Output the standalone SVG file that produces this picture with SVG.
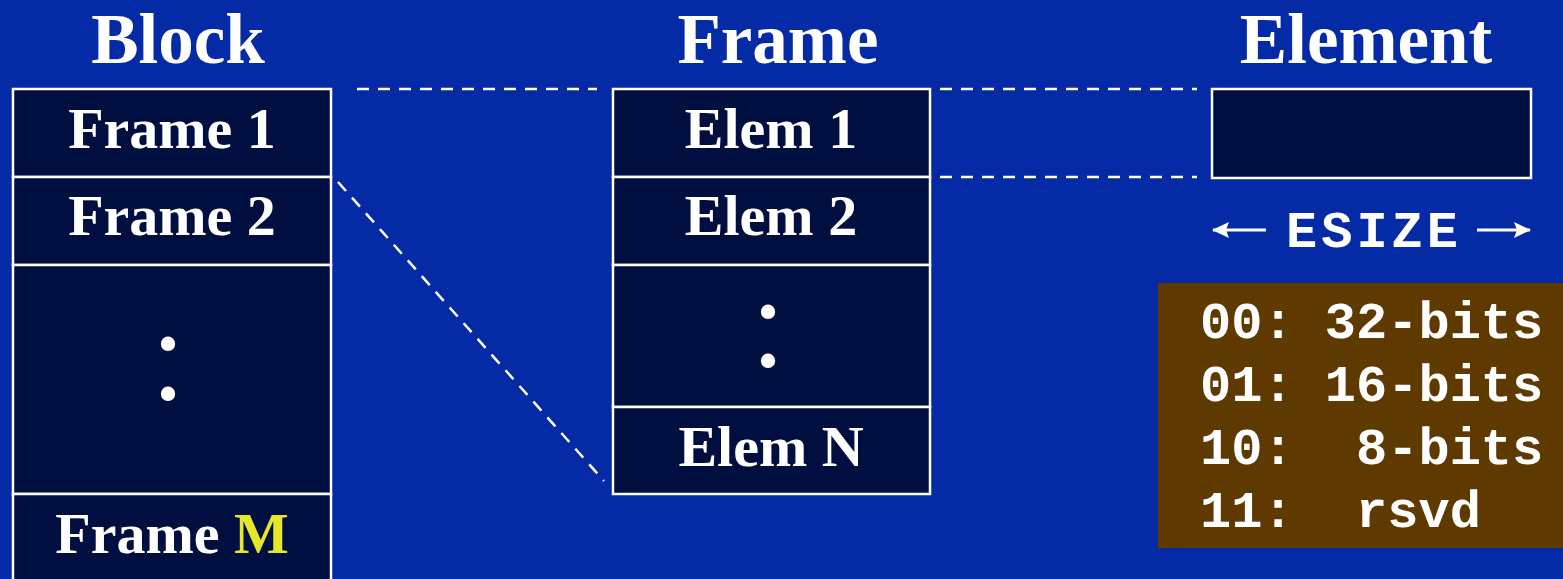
<svg xmlns="http://www.w3.org/2000/svg" width="1563" height="579" viewBox="0 0 1563 579">
<style>
.cell{fill:#000F40;stroke:#FFFFFF;stroke-width:2.5}
.t{font-family:"Liberation Serif",serif;font-weight:bold;fill:#FFFFFF;text-anchor:middle}
.title{font-size:71px}
.lbl{font-size:58px}
.dots{font-size:88px}
.mono{font-family:"Liberation Mono",monospace;font-weight:bold;fill:#FFFFFF;font-size:52px}
.dash{stroke:#FFFFFF;stroke-width:2.5;stroke-dasharray:12 9;fill:none}
.arr{stroke:#FFFFFF;stroke-width:3;fill:none}
</style>
<defs>
<marker id="ah" viewBox="0 0 17 16" refX="16" refY="8" markerWidth="17" markerHeight="16" markerUnits="userSpaceOnUse" orient="auto">
<path d="M0,0 L17,8 L0,16 L3,8 z" fill="#FFFFFF"/>
</marker>
</defs>
<rect x="0" y="0" width="1563" height="579" fill="#042AA5"/>

<g id="titles">
<text class="t title" x="178" y="63">Block</text>
<text class="t title" x="778" y="63">Frame</text>
<text class="t title" x="1366" y="63">Element</text>
</g>

<g id="block">
<rect class="cell" x="13" y="89" width="318" height="88"/>
<rect class="cell" x="13" y="177" width="318" height="88"/>
<rect class="cell" x="13" y="265" width="318" height="229"/>
<rect class="cell" x="13" y="494" width="318" height="100"/>
<text class="t lbl" x="172" y="148">Frame 1</text>
<text class="t lbl" x="172" y="235">Frame 2</text>
<text class="t dots"><tspan x="168" y="350">.</tspan><tspan x="168" y="400">.</tspan></text>
<text class="t lbl" x="172" y="553">Frame <tspan fill="#E6E62A">M</tspan></text>
</g>

<g id="frame">
<rect class="cell" x="613" y="89" width="317" height="88"/>
<rect class="cell" x="613" y="177" width="317" height="88"/>
<rect class="cell" x="613" y="265" width="317" height="142"/>
<rect class="cell" x="613" y="407" width="317" height="87"/>
<text class="t lbl" x="771" y="148">Elem 1</text>
<text class="t lbl" x="771" y="235">Elem 2</text>
<text class="t dots"><tspan x="768" y="318">.</tspan><tspan x="768" y="367">.</tspan></text>
<text class="t lbl" x="771" y="466">Elem N</text>
</g>

<g id="element">
<rect class="cell" x="1212" y="89" width="319" height="89"/>
</g>

<g id="esize">
<line class="arr" x1="1266" y1="230" x2="1213" y2="230" marker-end="url(#ah)"/>
<line class="arr" x1="1477" y1="230" x2="1530" y2="230" marker-end="url(#ah)"/>
<text class="mono" x="1286" y="247" letter-spacing="4">ESIZE</text>
</g>

<g id="legend">
<rect x="1158" y="283" width="410" height="265" fill="#5E3A00"/>
<text class="mono" x="1200" y="338" xml:space="preserve">00: 32-bits</text>
<text class="mono" x="1200" y="401" xml:space="preserve">01: 16-bits</text>
<text class="mono" x="1200" y="464" xml:space="preserve">10:  8-bits</text>
<text class="mono" x="1200" y="527" xml:space="preserve">11:  rsvd</text>
</g>

<g id="connectors">
<line class="dash" x1="357" y1="89" x2="597" y2="89"/>
<line class="dash" x1="940" y1="89" x2="1197" y2="89"/>
<line class="dash" x1="940" y1="177" x2="1197" y2="177"/>
<line class="dash" x1="338" y1="182" x2="604" y2="481"/>
</g>
</svg>
